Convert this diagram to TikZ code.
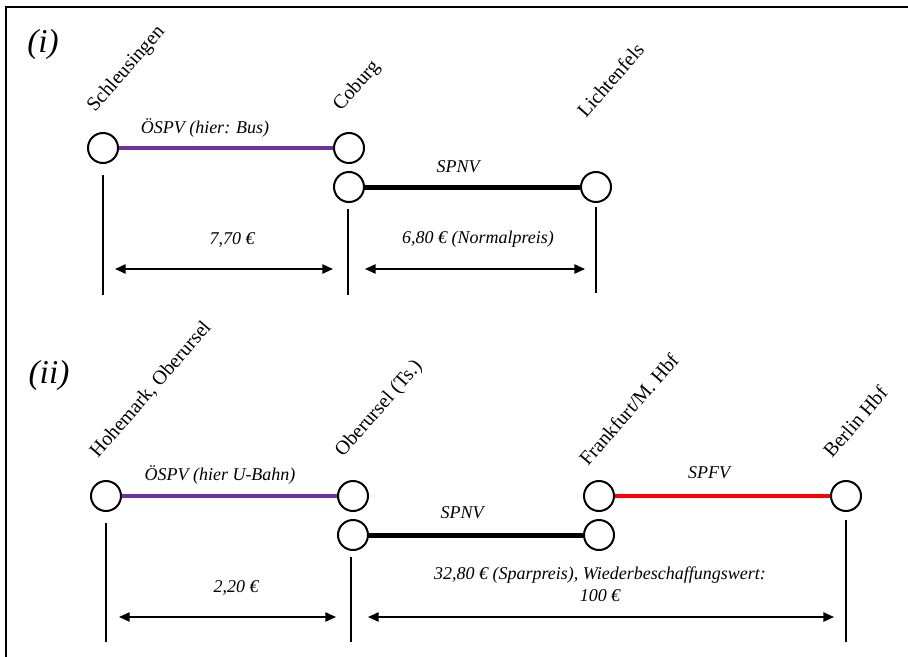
\documentclass[tikz,border=0pt]{standalone}
\usepackage{fontspec}
\setmainfont{Liberation Serif}
\usepackage{tikz}
\usetikzlibrary{arrows.meta, calc}
\definecolor{busviolet}{RGB}{112,48,160}
\definecolor{fvred}{RGB}{255,0,0}

\begin{document}
\begin{tikzpicture}
  [
    x=0.75pt, y=-0.75pt,
    stop/.style={circle, draw, line width=1.5pt, minimum size=22.5pt, inner sep=0pt, fill=white},
    town/.style={rotate=49, anchor=base west, inner sep=0pt, font=\fontsize{15}{18}\selectfont},
    tag/.style={inner sep=0pt, font=\itshape\fontsize{13.5}{16.5}\selectfont},
    part/.style={inner sep=0pt, font=\itshape\fontsize{25}{28}\selectfont},
    oespv/.style={line width=3pt, busviolet},
    spnv/.style={line width=3.75pt, black},
    spfv/.style={line width=3pt, fvred},
    tick/.style={line width=1.1pt},
    span/.style={line width=1.1pt, {Triangle[length=8pt,width=7pt]}-{Triangle[length=8pt,width=7pt]}}
  ]
  \useasboundingbox (0,0) rectangle (908,657);
  % frame
  \draw[line width=1.2pt] (6,657) -- (6,7) -- (908,7);

  % (i)
  \node[part] (pi) at (43,44) {(i)};
  \node[stop] (schl) at (103,148) {};
  \node[stop] (cobA) at (349,148) {};
  \node[stop] (cobB) at (349,187) {};
  \node[stop] (licht) at (596,187) {};
  \node[town] (tSchl) at (95,113) {Schleusingen};
  \node[town] (tCob) at (341,112) {Coburg};
  \node[town] (tLicht) at (586,119) {Lichtenfels};
  \draw[oespv] (schl) -- (cobA);
  \draw[spnv] (cobB) -- (licht);
  \node[tag] (mBus) at (205,128) {ÖSPV (hier: Bus)};
  \node[tag] (mNv) at (458,167) {SPNV};
  \foreach \x/\a/\b in {103/175/295, 348/209/295, 596/207/293} {
      \draw[tick] (\x,\a) -- (\x,\b);
  }
  \coordinate (iA) at (115,269);
  \coordinate (iB) at (333,269);
  \coordinate (iC) at (365,269);
  \coordinate (iD) at (585,269);
  \draw[span] (iA) -- (iB);
  \draw[span] (iC) -- (iD);
  \node[tag] (pBus) at (232,240) {7,70 €};
  \node[tag] (pNv) at (478,239) {6,80 € (Normalpreis)};

  % (ii)
  \node[part] (pii) at (49,375) {(ii)};
  \node[stop] (hohe) at (106,496) {};
  \node[stop] (oberA) at (353,496) {};
  \node[stop] (oberB) at (353,535) {};
  \node[stop] (frankA) at (599,496) {};
  \node[stop] (frankB) at (599,535) {};
  \node[stop] (berlin) at (846,496) {};
  \node[town] (tHohe) at (98,459) {Hohemark, Oberursel};
  \node[town] (tOber) at (343,458) {Oberursel (Ts.)};
  \node[town] (tFrank) at (588,467) {Frankfurt/M. Hbf};
  \node[town] (tBerlin) at (832,459) {Berlin Hbf};
  \draw[oespv] (hohe) -- (oberA);
  \draw[spnv] (oberB) -- (frankB);
  \draw[spfv] (frankA) -- (berlin);
  \node[tag] (mU) at (220,475) {ÖSPV (hier U-Bahn)};
  \node[tag] (mNv2) at (462,513) {SPNV};
  \node[tag] (mFv) at (709,473) {SPFV};
  \foreach \x/\a/\b in {106/523/642, 351/557/642, 846/520/642} {
      \draw[tick] (\x,\a) -- (\x,\b);
  }
  \coordinate (iiA) at (119,617);
  \coordinate (iiB) at (336,617);
  \coordinate (iiC) at (368,617);
  \coordinate (iiD) at (834,617);
  \draw[span] (iiA) -- (iiB);
  \draw[span] (iiC) -- (iiD);
  \node[tag] (pU) at (236,588) {2,20 €};
  \node[tag, align=center] (pFv) at (600,584) {32,80 € (Sparpreis), Wiederbeschaffungswert:\\100 €};
\end{tikzpicture}
\end{document}
